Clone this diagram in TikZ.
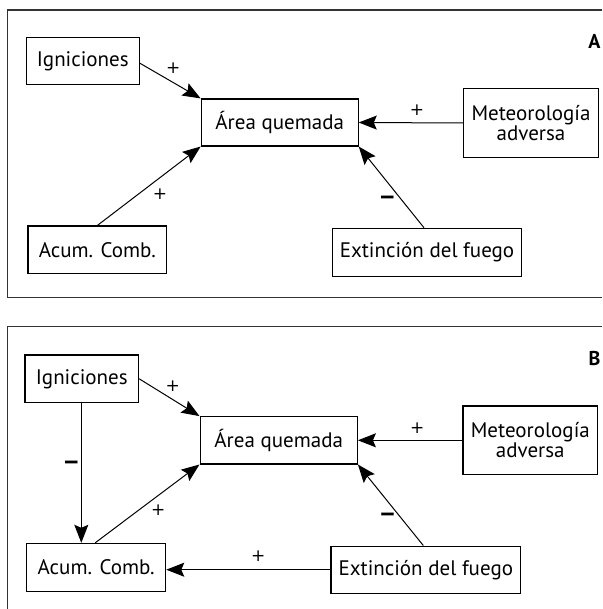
\documentclass[tikz,border=0pt]{standalone}
\usepackage{graphicx}
\usepackage{fontspec}
\setmainfont{PT Sans}
\newfontfamily\signfont{DejaVu Sans}
\usetikzlibrary{arrows.meta}
\newcommand{\negsign}{\scalebox{1.45}[1]{–}}
\begin{document}
\begin{tikzpicture}[x=1pt,y=-1pt,
  every node/.style={font=\fontsize{21}{20}\selectfont},
  box/.style={draw, line width=1.1pt, inner sep=0pt, align=center},
  conn/.style={line width=1pt, -{Stealth[length=18pt,width=14pt,inset=3pt]}},
  plus/.style={inner sep=0pt, font=\signfont\fontsize{17}{17}\selectfont},
  minus/.style={inner sep=0pt, font=\signfont\bfseries\fontsize{22}{22}\selectfont},
  frame/.style={draw=black!80, line width=1.2pt},
  tag/.style={font=\fontsize{20}{20}\selectfont\bfseries, inner sep=0pt}]
\useasboundingbox (0,0) rectangle (602,609);

% ---------- panel A ----------
\draw[frame] (602,10) -- (7.5,10) -- (7.5,297.7) -- (602,297.7);
\node[tag] (tagA) at (594.5,41) {A};

\node[box, minimum width=113pt, minimum height=47pt] (ignA) at (82.8,61.2) {Igniciones};
\node[box, minimum width=157pt, minimum height=47pt] (areaA) at (279.7,122.5) {Área quemada};
\node[box, minimum width=138.7pt, minimum height=47.3pt] (acumA) at (97.3,249.7) {Acum. Comb.};
\node[box, minimum width=134.6pt, minimum height=68.6pt] (meteoA) at (531,123) {Meteorología\\adversa};
\node[box, minimum width=189.4pt, minimum height=48pt] (extA) at (427,252.3) {Extinción del fuego};

\draw[conn] ([yshift=-2pt]ignA.east) -- (areaA.north west)
  node[plus, midway, xshift=3pt, yshift=12.5pt] {+};
\draw[conn] (acumA.north) -- (areaA.south west)
  node[plus, midway, xshift=11pt, yshift=-7.7pt] {+};
\draw[conn] (meteoA.west) -- (areaA.east)
  node[plus, midway, xshift=6pt, yshift=13pt] {+};
\draw[conn] ([xshift=-3pt]extA.north) -- (areaA.south east)
  node[minus, midway, xshift=-4pt, yshift=-12.5pt] {\negsign};

% ---------- panel B ----------
\draw[frame] (602,326.7) -- (7.5,326.7) -- (7.5,609);
\node[tag] (tagB) at (594.5,358.3) {B};

\node[box, minimum width=113.7pt, minimum height=47.7pt] (ignB) at (81.8,378.8) {Igniciones};
\node[box, minimum width=157.3pt, minimum height=47.3pt] (areaB) at (278.7,440.3) {Área quemada};
\node[box, minimum width=139pt, minimum height=47.7pt] (acumB) at (96.2,567.2) {Acum. Comb.};
\node[box, minimum width=134.7pt, minimum height=68.7pt] (meteoB) at (530.3,440.3) {Meteorología\\adversa};
\node[box, minimum width=189.7pt, minimum height=47.3pt] (extB) at (425.8,569.7) {Extinción del fuego};

\draw[conn] (ignB.east) -- (areaB.north west)
  node[plus, midway, xshift=3.3pt, yshift=11pt] {+};
\draw[conn] ([xshift=-0.5pt]ignB.south) -- ([xshift=-0.5pt]ignB.south |- acumB.north)
  node[minus, midway, xshift=-10pt, yshift=8pt] {\negsign};
\draw[conn] ([xshift=-1pt]acumB.north) -- (areaB.south west)
  node[plus, midway, xshift=11pt, yshift=-7pt] {+};
\draw[conn] (extB.west) -- (extB.west -| acumB.east)
  node[plus, midway, xshift=10pt, yshift=13.3pt] {+};
\draw[conn] (meteoB.west) -- (areaB.east)
  node[plus, midway, xshift=7pt, yshift=12.6pt] {+};
\draw[conn] ([xshift=-2.5pt]extB.north) -- (areaB.south east)
  node[minus, midway, xshift=-3pt, yshift=-11.7pt] {\negsign};
\end{tikzpicture}
\end{document}
